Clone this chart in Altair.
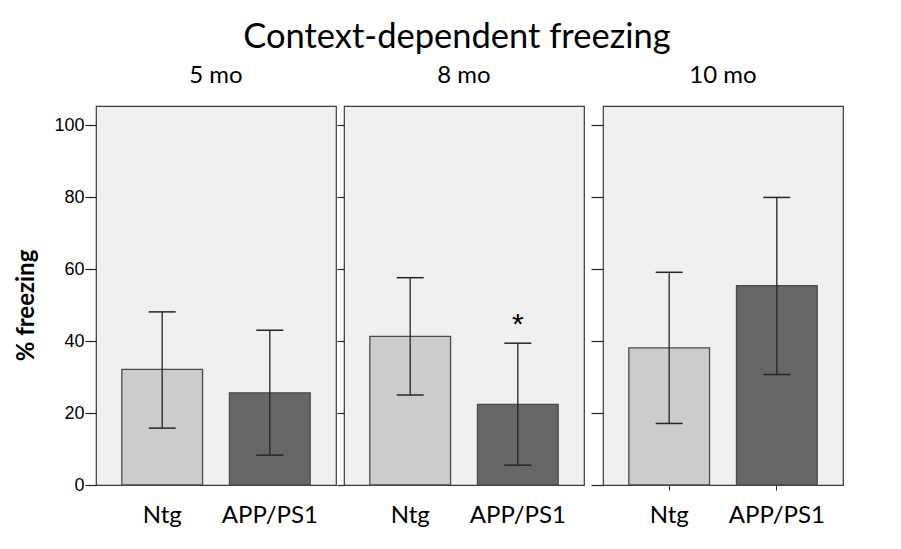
import altair as alt
import pandas as pd

ages = ["5 mo", "8 mo", "10 mo"]
groups = ["Ntg", "APP/PS1"]
ntg_mean = [32.1, 41.3, 38.1]
ntg_low = [15.8, 25.0, 17.1]
ntg_high = [48.1, 57.6, 59.1]
app_mean = [25.6, 22.4, 55.4]
app_low = [8.3, 5.5, 30.7]
app_high = [43.0, 39.4, 79.9]
sig_age = "8 mo"
sig_group = "APP/PS1"
sig_y = 44.5
y_ticks = [0, 20, 40, 60, 80, 100]

rows = []
for i, a in enumerate(ages):
    rows.append(dict(age=a, group="Ntg", mean=ntg_mean[i], low=ntg_low[i], high=ntg_high[i]))
    rows.append(dict(age=a, group="APP/PS1", mean=app_mean[i], low=app_low[i], high=app_high[i]))
df = pd.DataFrame(rows)

YMAX = 105.3
TICK_SIZES = [11, 7, 12]
INK = "#262626"


def panel(i):
    d = df[df.age == ages[i]]
    first = i == 0
    yaxis_kwargs = dict(values=y_ticks, labels=first, tickSize=TICK_SIZES[i], domain=False,
                        grid=False, tickColor=INK, tickWidth=1.2, labelFontSize=18,
                        labelFont="Liberation Sans", labelColor="black", labelPadding=1)
    if first:
        yaxis_kwargs.update(title="% freezing", titleFont="Lato", titleFontWeight="bold",
                            titleFontSize=24, titlePadding=15, titleColor="black", titleY=199)
    else:
        yaxis_kwargs.update(title=None)
    yaxis = alt.Axis(**yaxis_kwargs)
    xscale = alt.Scale(domain=groups, paddingInner=0.25, paddingOuter=0.24)
    xaxis = alt.Axis(title=None, labelAngle=0, domain=False, ticks=(i == 2), tickSize=5,
                     tickColor=INK, labelFontSize=24, labelFont="Lato",
                     labelPadding=(13 if i == 2 else 18), labelColor="black")
    x = alt.X("group:N", sort=groups, scale=xscale, axis=xaxis)
    y = alt.Y("mean:Q", scale=alt.Scale(domain=[0, YMAX], nice=False), axis=yaxis)
    base = alt.Chart(d)
    bars = base.mark_bar(stroke="#4a4a4a", strokeWidth=1.3).encode(
        x=x, y=y,
        color=alt.Color("group:N", scale=alt.Scale(domain=groups, range=["#cccccc", "#666666"]), legend=None),
    )
    rule = base.mark_rule(color=INK, strokeWidth=1.3).encode(
        x=alt.X("group:N", sort=groups), y="low:Q", y2="high:Q")
    cap_lo = base.mark_tick(color=INK, size=27, thickness=1.5, opacity=1).encode(
        x=alt.X("group:N", sort=groups), y="low:Q")
    cap_hi = base.mark_tick(color=INK, size=27, thickness=1.5, opacity=1).encode(
        x=alt.X("group:N", sort=groups), y="high:Q")
    layers = [bars, rule, cap_lo, cap_hi]
    if ages[i] == sig_age:
        sd = pd.DataFrame({"group": [sig_group], "y": [sig_y], "label": ["*"]})
        star = alt.Chart(sd).mark_text(fontSize=30, font="Liberation Sans", baseline="middle",
                                       color="black").encode(
            x=alt.X("group:N", sort=groups), y="y:Q", text="label:N")
        layers.append(star)
    return alt.layer(*layers).properties(
        width=240, height=379,
        title=alt.TitleParams(ages[i], fontSize=24, font="Lato", fontWeight="normal",
                              offset=18, color="black"),
    )


p1, p2, p3 = panel(0), panel(1), panel(2)
chart = alt.hconcat(alt.hconcat(p1, p2, spacing=-2), p3, spacing=4).properties(
    title=alt.TitleParams("Context-dependent freezing", fontSize=34.5, font="Lato",
                          fontWeight="normal", anchor="middle", color="black", offset=8, dx=28),
    padding={"left": 6, "top": 11, "right": 5, "bottom": 5},
).configure_view(fill="#f0f0f0", stroke="#3a3a3a", strokeWidth=1.2)

chart.save("out.html", embed_options={"renderer": "svg", "actions": False})
